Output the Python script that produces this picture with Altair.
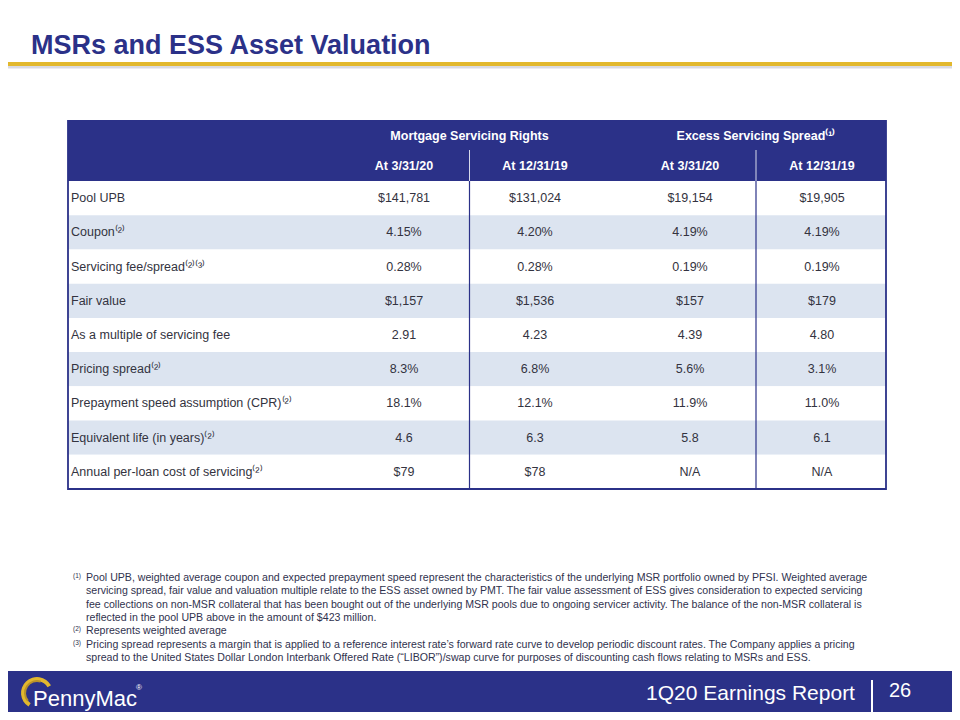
import altair as alt
import pandas as pd

# ---------------- data ----------------
title_text = "MSRs and ESS Asset Valuation"
group_headers = ["Mortgage Servicing Rights", "Excess Servicing Spread⁽¹⁾"]
period_headers = ["At 3/31/20", "At 12/31/19", "At 3/31/20", "At 12/31/19"]

row_labels = [
    "Pool UPB",
    "Coupon⁽²⁾",
    "Servicing fee/spread⁽²⁾⁽³⁾",
    "Fair value",
    "As a multiple of servicing fee",
    "Pricing spread⁽²⁾",
    "Prepayment speed assumption (CPR)⁽²⁾",
    "Equivalent life (in years)⁽²⁾",
    "Annual per-loan cost of servicing⁽²⁾",
]
msr_mar20 = ["$141,781", "4.15%", "0.28%", "$1,157", "2.91", "8.3%", "18.1%", "4.6", "$79"]
msr_dec19 = ["$131,024", "4.20%", "0.28%", "$1,536", "4.23", "6.8%", "12.1%", "6.3", "$78"]
ess_mar20 = ["$19,154", "4.19%", "0.19%", "$157", "4.39", "5.6%", "11.9%", "5.8", "N/A"]
ess_dec19 = ["$19,905", "4.19%", "0.19%", "$179", "4.80", "3.1%", "11.0%", "6.1", "N/A"]

footnote_markers = ["(1)", "", "", "", "(2)", "(3)", ""]
footnote_lines = [
    "Pool UPB,  weighted average coupon and expected prepayment speed represent the characteristics of the underlying MSR portfolio owned by PFSI.   Weighted average",
    "servicing spread, fair value and valuation multiple  relate to the ESS  asset owned by PMT.   The  fair value assessment of ESS gives consideration to expected servicing",
    "fee collections on non-MSR collateral that has been bought out of the underlying MSR pools due to ongoing servicer activity.  The balance of the non-MSR collateral is",
    "reflected in the pool UPB  above in the amount  of $423 million.",
    "Represents weighted average",
    "Pricing spread represents a margin that is applied to a reference interest rate’s forward rate curve to develop periodic discount rates. The Company  applies a pricing",
    "spread to the United  States Dollar London Interbank  Offered Rate (“LIBOR”)/swap curve for purposes of discounting cash flows relating to MSRs and ESS.",
]
footer_text = "1Q20 Earnings Report"
page_number = "26"
logo_text = "PennyMac"

# ---------------- style / layout ----------------
NAVY = "#2B3188"
GOLD = "#E2B82E"
SHADE = "#DCE4F0"
TXT = "#333340"
FONT = "Liberation Sans"
W, H = 944, 704
OFF = 8


def px(v):
    return v - OFF


n_rows = len(row_labels)
rows_df = pd.DataFrame({"row": list(range(n_rows)), "label": row_labels})
series = [msr_mar20, msr_dec19, ess_mar20, ess_dec19]
cells_df = pd.DataFrame(
    [{"row": r, "col": c + 1, "value": s[r]} for c, s in enumerate(series) for r in range(n_rows)]
)
period_df = pd.DataFrame({"col": [1, 2, 3, 4], "text": period_headers})
group_df = pd.DataFrame({"col": [1.5, 3.5], "text": group_headers})
divider_df = pd.DataFrame({"col": [1.5, 3.5]})
foot_df = pd.DataFrame(
    {"line": list(range(len(footnote_lines))), "text": footnote_lines, "marker": footnote_markers}
)
one = pd.DataFrame({"k": [0]})

y_rows = alt.Scale(domain=[0, n_rows], range=[px(181), px(489)], zero=False, nice=False)
x_cols = alt.Scale(domain=[1, 2, 3, 4], range=[px(404), px(535), px(690), px(822)], zero=False, nice=False)
y_foot = alt.Scale(domain=[0, 6], range=[px(578), px(578 + 6 * 13.3)], zero=False, nice=False)

TL, TR = px(68), px(886)

# title + gold rule
title = alt.Chart(pd.DataFrame({"t": [title_text]})).mark_text(
    align="left", baseline="alphabetic", font=FONT, fontSize=27, fontWeight="bold", color=NAVY
).encode(text="t:N", x=alt.value(px(31)), y=alt.value(px(54)))
shadow = alt.Chart(one).mark_rect(color="#C9CAD6", opacity=0.7).encode(
    x=alt.value(0), x2=alt.value(W), y=alt.value(px(65)), y2=alt.value(px(68.5))
)
gold_rule = alt.Chart(one).mark_rect(color=GOLD).encode(
    x=alt.value(0), x2=alt.value(W), y=alt.value(px(62)), y2=alt.value(px(66))
)

# table header
header_bg = alt.Chart(one).mark_rect(color=NAVY).encode(
    x=alt.value(TL), x2=alt.value(TR), y=alt.value(px(121)), y2=alt.value(px(181))
)
group_txt = alt.Chart(group_df).mark_text(
    font=FONT, fontSize=12.5, fontWeight="bold", color="white", baseline="middle"
).encode(x=alt.X("col:Q", scale=x_cols, axis=None), y=alt.value(px(136)), text="text:N")
period_txt = alt.Chart(period_df).mark_text(
    font=FONT, fontSize=12.5, fontWeight="bold", color="white", baseline="middle"
).encode(x=alt.X("col:Q", scale=x_cols, axis=None), y=alt.value(px(166)), text="text:N")
head_div = alt.Chart(divider_df).mark_rule(color="#D8DAEA", strokeWidth=1).encode(
    x=alt.X("col:Q", scale=x_cols, axis=None), y=alt.value(px(150)), y2=alt.value(px(181))
)

# body bands
bands = alt.Chart(rows_df).transform_calculate(row_end="datum.row + 1").mark_rect().encode(
    x=alt.value(TL),
    x2=alt.value(TR),
    y=alt.Y("row:Q", scale=y_rows, axis=None),
    y2="row_end:Q",
    color=alt.condition("datum.row % 2 == 1", alt.value(SHADE), alt.value("white")),
)
body_div = alt.Chart(divider_df).mark_rule(color=NAVY, strokeWidth=1.2).encode(
    x=alt.X("col:Q", scale=x_cols, axis=None), y=alt.value(px(181)), y2=alt.value(px(489))
)
border = alt.Chart(one).mark_rect(fill=None, stroke=NAVY, strokeWidth=1.8).encode(
    x=alt.value(TL), x2=alt.value(TR), y=alt.value(px(121)), y2=alt.value(px(489))
)
labels = alt.Chart(rows_df).transform_calculate(mid="datum.row + 0.5").mark_text(
    align="left", baseline="middle", font=FONT, fontSize=12.5, color=TXT
).encode(x=alt.value(px(71)), y=alt.Y("mid:Q", scale=y_rows, axis=None), text="label:N")
values = alt.Chart(cells_df).transform_calculate(mid="datum.row + 0.5").mark_text(
    align="center", baseline="middle", font=FONT, fontSize=12.5, color=TXT
).encode(
    x=alt.X("col:Q", scale=x_cols, axis=None),
    y=alt.Y("mid:Q", scale=y_rows, axis=None),
    text="value:N",
)

# footnotes
foot_txt = alt.Chart(foot_df).mark_text(
    align="left", baseline="middle", font=FONT, fontSize=10.6, color="#30324E"
).encode(x=alt.value(px(86)), y=alt.Y("line:Q", scale=y_foot, axis=None), text="text:N")
foot_mark = alt.Chart(foot_df).mark_text(
    align="left", baseline="middle", font=FONT, fontSize=6.5, color="#30324E", dy=-2
).encode(x=alt.value(px(73)), y=alt.Y("line:Q", scale=y_foot, axis=None), text="marker:N")

# footer
footer_bg = alt.Chart(one).mark_rect(color=NAVY).encode(
    x=alt.value(0), x2=alt.value(W), y=alt.value(px(671)), y2=alt.value(H)
)
footer_title = alt.Chart(pd.DataFrame({"t": [footer_text]})).mark_text(
    align="left", baseline="alphabetic", font=FONT, fontSize=21, color="white"
).encode(text="t:N", x=alt.value(px(646)), y=alt.value(px(700)))
footer_sep = alt.Chart(one).mark_rule(color="white", strokeWidth=2).encode(
    x=alt.value(px(872)), y=alt.value(px(680)), y2=alt.value(px(712))
)
footer_num = alt.Chart(pd.DataFrame({"t": [page_number]})).mark_text(
    align="left", baseline="alphabetic", font=FONT, fontSize=20, color="white"
).encode(text="t:N", x=alt.value(px(889)), y=alt.value(px(697)))
logo_ring = alt.Chart(one).mark_arc(
    radius=16, radius2=12, theta=3.7, theta2=7.35, x=px(37), y=px(693)
).encode(color=alt.value(GOLD))
logo_ring2 = alt.Chart(one).mark_arc(
    radius=13, radius2=11, theta=4.0, theta2=6.6, x=px(37), y=px(693)
).encode(color=alt.value("#B8922A"))
logo_txt = alt.Chart(pd.DataFrame({"t": [logo_text]})).mark_text(
    align="left", baseline="alphabetic", font=FONT, fontSize=22, color="white"
).encode(text="t:N", x=alt.value(px(33)), y=alt.value(px(706)))
logo_reg = alt.Chart(pd.DataFrame({"t": ["®"]})).mark_text(
    align="left", baseline="middle", font=FONT, fontSize=8, color="white"
).encode(text="t:N", x=alt.value(px(136)), y=alt.value(px(688)))

chart = (
    alt.layer(
        title, shadow, gold_rule,
        header_bg, group_txt, period_txt, head_div,
        bands, body_div, border, labels, values,
        foot_txt, foot_mark,
        footer_bg, footer_title, footer_sep, footer_num, logo_ring, logo_ring2, logo_txt, logo_reg,
    )
    .resolve_scale(x="independent", y="independent")
    .properties(width=W, height=H, autosize="none", padding=0, background="white")
    .configure_view(stroke=None)
)

chart.save("out.html", embed_options={"renderer": "svg", "actions": False})
